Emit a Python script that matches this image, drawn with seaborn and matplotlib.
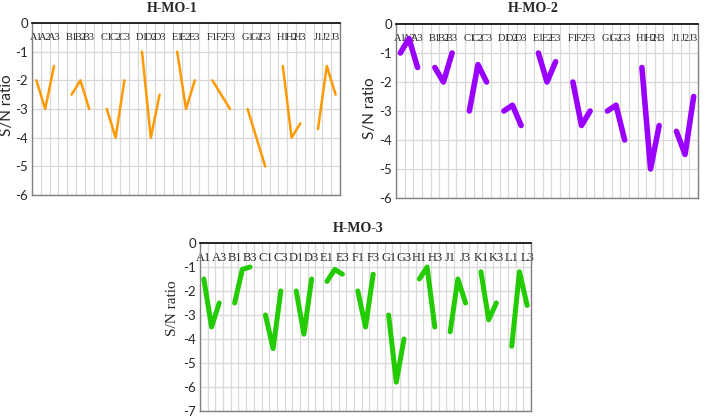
import numpy as np
import pandas as pd
import matplotlib
matplotlib.use("Agg")
import matplotlib.pyplot as plt
import seaborn as sns

# ---------------------------------------------------------------
# data: S/N ratio per run, three runs per factor group
# ---------------------------------------------------------------
GROUPS_12 = ["A", "B", "C", "D", "E", "F", "G", "H", "J"]
GROUPS_3 = ["A", "B", "C", "D", "E", "F", "G", "H", "J", "K", "L"]

HMO1 = [-2.0, -3.0, -1.5,
        -2.5, -2.0, -3.0,
        -3.0, -4.0, -2.0,
        -1.0, -4.0, -2.5,
        -1.0, -3.0, -2.0,
        -2.0, -2.5, -3.0,
        -3.0, -4.0, -5.0,
        -1.5, -4.0, -3.5,
        -3.7, -1.5, -2.5]

HMO2 = [-1.0, -0.5, -1.5,
        -1.5, -2.0, -1.0,
        -3.0, -1.4, -2.0,
        -3.0, -2.8, -3.5,
        -1.0, -2.0, -1.3,
        -2.0, -3.5, -3.0,
        -3.0, -2.8, -4.0,
        -1.5, -5.0, -3.5,
        -3.7, -4.5, -2.5]

HMO3 = [-1.5, -3.5, -2.5,
        -2.5, -1.1, -1.0,
        -3.0, -4.4, -2.0,
        -2.0, -3.8, -1.5,
        -1.6, -1.1, -1.3,
        -2.0, -3.5, -1.3,
        -3.0, -5.8, -4.0,
        -1.5, -1.0, -3.5,
        -3.7, -1.5, -2.5,
        -1.2, -3.2, -2.5,
        -4.3, -1.2, -2.6]


def build_frame(groups, values):
    rows = []
    for k, g in enumerate(groups):
        for j in range(3):
            rows.append({"pos": 4 * k + j, "label": f"{g}{j + 1}",
                         "group": g, "sn": values[3 * k + j]})
    return pd.DataFrame(rows)


def draw_panel(fig, rect, df, color, lw, ymin, title, title_xy, ylab_xy,
               cat_size, every=1, ylab_family=("Lato", "DejaVu Sans")):
    ax = fig.add_axes(rect)
    n = df["pos"].max() + 1

    sns.lineplot(data=df, x="pos", y="sn", units="group", estimator=None,
                 color=color, lw=lw, ax=ax, solid_capstyle="round",
                 solid_joinstyle="round")

    ax.set_xlim(-0.5, n - 0.5)
    ax.set_ylim(ymin, 0)
    ax.set_xlabel("")
    ax.set_ylabel("")

    # gridlines between categories and at each integer
    for x in np.arange(-0.5, n, 1.0):
        ax.axvline(x, color="#d9d9d9", lw=0.9, zorder=0)
    for y in range(ymin, 0):
        ax.axhline(y, color="#d9d9d9", lw=0.9, zorder=0)

    # category labels sit just under the 0 axis, inside the plot
    labels = [""] * n
    for p, l in zip(df["pos"], df["label"]):
        if p % every == 0:
            labels[p] = l
    ax.set_xticks(range(n))
    ax.set_xticklabels(labels, family=["Liberation Serif", "DejaVu Serif"],
                       fontsize=cat_size)
    ax.tick_params(axis="x", top=True, labeltop=True, bottom=False,
                   labelbottom=False, length=0, pad=-(cat_size + 6))

    ax.set_yticks(range(ymin, 1))
    ax.set_yticklabels([str(v) for v in range(ymin, 1)],
                       family=["Lato", "DejaVu Sans"], fontsize=9.5)
    ax.tick_params(axis="y", length=0, pad=3)

    for s in ["left", "right", "bottom"]:
        ax.spines[s].set_color("#808080")
        ax.spines[s].set_linewidth(1.0)
    ax.spines["top"].set_color("black")
    ax.spines["top"].set_linewidth(1.2)

    fig.text(title_xy[0] / 705, 1 - title_xy[1] / 416, title,
             ha="center", va="center", fontsize=10, fontweight="bold",
             family=["Liberation Serif", "DejaVu Serif"])
    fig.text(ylab_xy[0] / 705, 1 - ylab_xy[1] / 416, "S/N ratio",
             ha="center", va="center", rotation=90, fontsize=11,
             family=list(ylab_family))
    return ax


if __name__ == "__main__":
    sns.set_style("white")
    plt.rcParams["axes.unicode_minus"] = False

    fig = plt.figure(figsize=(7.05, 4.16), dpi=100)

    draw_panel(fig, [32 / 705, 1 - 195 / 416, 308 / 705, 172 / 416],
               build_frame(GROUPS_12, HMO1), "#ff9900", 1.8, -6,
               "H-MO-1", (172, 9), (7, 105), 7.5)

    draw_panel(fig, [396 / 705, 1 - 198 / 416, 302 / 705, 174 / 416],
               build_frame(GROUPS_12, HMO2), "#9900ff", 4.0, -6,
               "H-MO-2", (533, 9), (370, 108), 7.5)

    draw_panel(fig, [200 / 705, 1 - 411 / 416, 331 / 705, 168 / 416],
               build_frame(GROUPS_3, HMO3), "#22cc00", 3.6, -7,
               "H-MO-3", (358, 228), (173, 308), 9, every=2,
               ylab_family=("Liberation Serif", "DejaVu Serif"))

    fig.savefig("out.png", dpi=100)
